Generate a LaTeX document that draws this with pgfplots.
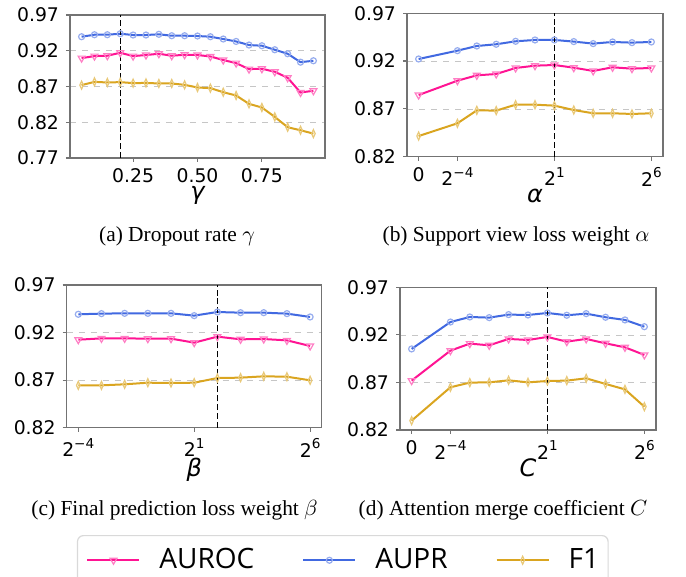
\documentclass[border=0pt]{standalone}
\usepackage{pgfplots}
\pgfplotsset{compat=1.18}
\usepackage{pgfplotstable}
\usepackage{fontspec}
\setmainfont{Liberation Serif}
\newfontfamily\dvs{DejaVu Sans}
\newfontfamily\osans{Open Sans}

\definecolor{cauroc}{HTML}{FF1493}
\definecolor{caupr}{HTML}{4169E1}
\definecolor{cfone}{HTML}{DAA520}
\definecolor{spine}{gray}{0.45}

% power-of-two tick label in the tick font
\newcommand\pw[1]{2\raisebox{0.85ex}{\fontsize{6.8}{7}\selectfont #1}}

% (a) dropout rate
\pgfplotstableread{
x    auroc  aupr   fone
0.05 0.9097 0.9396 0.8719
0.10 0.9125 0.9424 0.8765
0.15 0.9130 0.9424 0.8756
0.20 0.9172 0.9438 0.8761
0.25 0.9125 0.9420 0.8747
0.30 0.9140 0.9420 0.8750
0.35 0.9158 0.9430 0.8742
0.40 0.9130 0.9410 0.8742
0.45 0.9144 0.9410 0.8723
0.50 0.9140 0.9406 0.8686
0.55 0.9120 0.9396 0.8677
0.60 0.9070 0.9364 0.8620
0.65 0.9027 0.9330 0.8574
0.70 0.8943 0.9280 0.8457
0.75 0.8948 0.9270 0.8406
0.80 0.8906 0.9214 0.8275
0.85 0.8822 0.9158 0.8130
0.90 0.8616 0.9040 0.8088
0.95 0.8640 0.9060 0.8041
}\tabA

% (b) support view loss weight (0, 2^-4 ... 2^6)
\pgfplotstableread{
x  auroc  aupr   fone
0  0.8845 0.9222 0.8416
2  0.8995 0.9309 0.8549
3  0.9051 0.9358 0.8685
4  0.9065 0.9376 0.8682
5  0.9128 0.9407 0.8744
6  0.9152 0.9421 0.8744
7  0.9159 0.9421 0.8734
8  0.9131 0.9404 0.8688
9  0.9097 0.9383 0.8654
10 0.9135 0.9400 0.8654
11 0.9121 0.9393 0.8647
12 0.9128 0.9400 0.8654
}\tabB

% (c) final prediction loss weight (2^-4 ... 2^6)
\pgfplotstableread{
x  auroc  aupr   fone
0  0.9125 0.9392 0.8645
1  0.9139 0.9399 0.8645
2  0.9139 0.9402 0.8656
3  0.9136 0.9402 0.8673
4  0.9136 0.9402 0.8670
5  0.9094 0.9378 0.8673
6  0.9157 0.9416 0.8722
7  0.9129 0.9409 0.8726
8  0.9132 0.9409 0.8740
9  0.9118 0.9399 0.8736
10 0.9059 0.9364 0.8698
}\tabC

% (d) attention merge coefficient (0, 2^-4 ... 2^6)
\pgfplotstableread{
x  auroc  aupr   fone
0  0.8719 0.9052 0.8298
2  0.9034 0.9335 0.8649
3  0.9108 0.9388 0.8698
4  0.9090 0.9381 0.8701
5  0.9157 0.9413 0.8722
6  0.9146 0.9409 0.8701
7  0.9178 0.9430 0.8715
8  0.9129 0.9406 0.8719
9  0.9157 0.9423 0.8743
10 0.9111 0.9385 0.8684
11 0.9069 0.9357 0.8627
12 0.8989 0.9286 0.8445
}\tabD

\pgfplotsset{
  panel/.style={
    scale only axis,
    anchor=south west,
    axis line style={spine, line width=0.6pt},
    tick style={spine, line width=0.6pt},
    tick align=outside,
    major tick length=2pt,
    xtick pos=left, ytick pos=left,
    ymajorgrids,
    grid style={dashed, gray!45, line width=0.35pt},
    every tick label/.append style={font=\dvs\fontsize{9.4}{10}\selectfont, text=black},
    every x tick label/.append style={inner ysep=0.3pt, yshift=-2.8pt},
    xlabel style={font=\dvs\itshape\fontsize{12}{13}\selectfont, anchor=base, inner sep=0pt},
    ymax=0.97,
    clip=false,
  },
  lowy/.style={ymin=0.82, ytick={0.82,0.87,0.92,0.97},
    yticklabels={0.82,0.87,0.92,0.97}},
  pow13/.style={xmin=-0.6, xmax=12.6, xtick={0,2,7,12},
    xticklabels={0,\pw{−4},\pw{1},\pw{6}}},
  auroc/.style={cauroc, line width=1pt, mark=triangle, mark size=2pt,
    mark options={rotate=180, draw=cauroc!55!white, fill=none, line width=0.6pt}},
  aupr/.style={caupr, line width=1pt, mark=o, mark size=1.5pt,
    mark options={draw=caupr!55!white, fill=none, line width=0.6pt}},
  fone/.style={cfone, line width=1pt, mark=diamond, mark size=2pt,
    mark options={xscale=0.6, draw=cfone!60!white, fill=none, line width=0.6pt}},
  vline/.style={black, line width=0.6pt, dash pattern=on 3pt off 1.4pt, forget plot},
}

\begin{document}
\begin{tikzpicture}
\path[use as bounding box] (0,0) rectangle (343pt,288.5pt);

% (a)
\begin{axis}[panel, at={(35pt,209.5pt)}, width=127.5pt, height=71.5pt,
  xmin=0.005, xmax=0.995, ymin=0.77,
  xtick={0.25,0.5,0.75}, xticklabels={0.25,0.50,0.75},
  ytick={0.77,0.82,0.87,0.92,0.97}, yticklabels={0.77,0.82,0.87,0.92,0.97},
  xlabel={γ}, xlabel style={at={(axis description cs:0.5,-0.292)}}]
\addplot[auroc] table[x=x, y=auroc] {\tabA};
\addplot[aupr] table[x=x, y=aupr] {\tabA};
\addplot[fone] table[x=x, y=fone] {\tabA};
\addplot[vline] coordinates {(0.2,0.77) (0.2,0.97)};
\end{axis}

% (b)
\begin{axis}[panel, lowy, pow13, at={(203.5pt,210.15pt)}, width=128pt, height=71.7pt,
  xlabel={α}, xlabel style={at={(axis description cs:0.5,-0.318)}}]
\addplot[auroc] table[x=x, y=auroc] {\tabB};
\addplot[aupr] table[x=x, y=aupr] {\tabB};
\addplot[fone] table[x=x, y=fone] {\tabB};
\addplot[vline] coordinates {(7,0.82) (7,0.97)};
\end{axis}

% (c) carries the shared legend
\begin{axis}[panel, lowy, at={(33.35pt,74.65pt)}, width=127.5pt, height=71.35pt,
  xmin=-0.5, xmax=10.5, xtick={0,5,10}, xticklabels={\pw{−4},\pw{1},\pw{6}},
  xlabel={β}, xlabel style={at={(axis description cs:0.5,-0.345)}},
  legend image code/.code={\draw[mark repeat=2, mark phase=2, #1]
    plot coordinates {(0pt,0pt) (13pt,0pt) (26pt,0pt)};},
  legend columns=3,
  legend style={at={(axis description cs:0.04,-0.752)}, anchor=north west,
    draw=gray!30, rounded corners=3pt, line width=0.6pt,
    font=\osans\fontsize{14}{16}\selectfont,
    inner xsep=4.5pt, inner ysep=4.5pt,
    nodes={inner xsep=0pt},
    /tikz/every odd column/.append style={column sep=9.5pt},
    /tikz/every even column/.append style={column sep=24pt}},
]
\addplot[auroc] table[x=x, y=auroc] {\tabC};
\addplot[aupr] table[x=x, y=aupr] {\tabC};
\addplot[fone] table[x=x, y=fone] {\tabC};
\addplot[vline] coordinates {(6,0.82) (6,0.97)};
\legend{AUROC, AUPR, F1}
\end{axis}

% (d)
\begin{axis}[panel, lowy, pow13, at={(200pt,73.5pt)}, width=128pt, height=71.35pt,
  xlabel={C}, xlabel style={at={(axis description cs:0.5,-0.325)}}]
\addplot[auroc] table[x=x, y=auroc] {\tabD};
\addplot[aupr] table[x=x, y=aupr] {\tabD};
\addplot[fone] table[x=x, y=fone] {\tabD};
\addplot[vline] coordinates {(7,0.82) (7,0.97)};
\end{axis}

% sub-captions
\begin{scope}[every node/.style={font=\fontsize{10.7}{13}\selectfont, anchor=base}]
\node at (88.5pt,167.6pt) {(a) Dropout rate $\gamma$};
\node at (258pt,167.6pt) {(b) Support view loss weight $\alpha$};
\node at (87.3pt,30.5pt) {(c) Final prediction loss weight $\beta$};
\node at (251.5pt,30.5pt) {(d) Attention merge coefficient $C$};
\end{scope}
\end{tikzpicture}
\end{document}
